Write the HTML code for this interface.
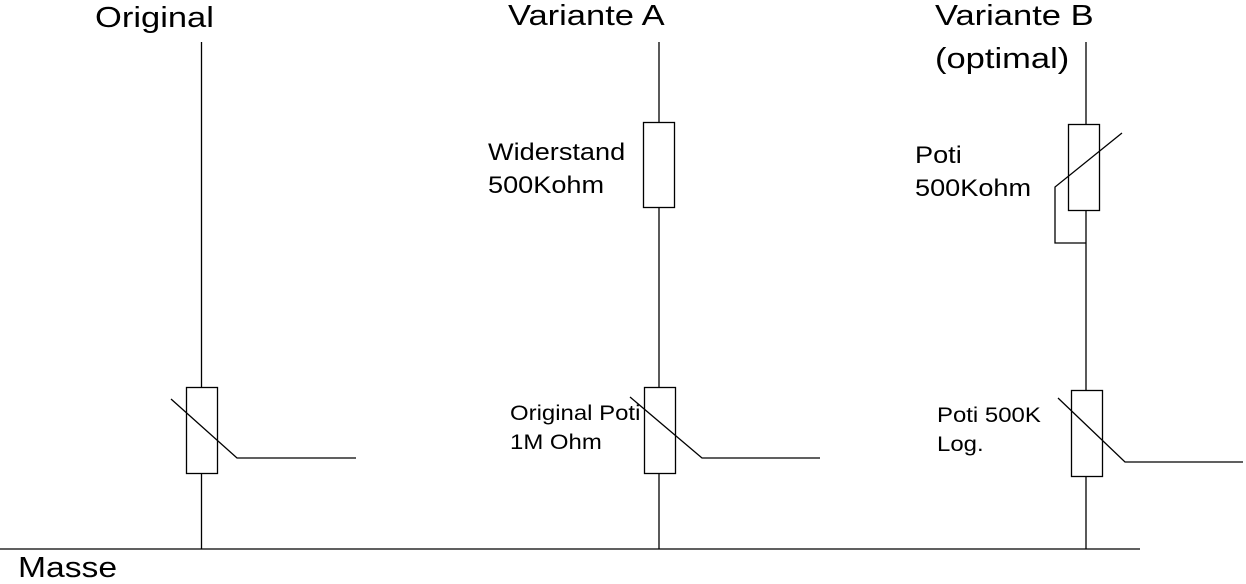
<!DOCTYPE html>
<html><head><style>
body{margin:0;width:1246px;height:582px;background:#fff;overflow:hidden;position:relative;font-family:"Liberation Sans",sans-serif;}
.t{position:absolute;white-space:nowrap;color:#000;line-height:1;transform-origin:0 0;}
.b{font-size:29px;transform:scaleX(1.19);}
.m{font-size:24px;transform:scaleX(1.13);}
.s{font-size:21px;transform:scaleX(1.14);}
</style></head><body>
<svg width="1246" height="582" style="position:absolute;left:0;top:0" fill="none" stroke="#000" stroke-width="1.3">
<line x1="0" y1="549" x2="1140" y2="549"/>
<line x1="201.5" y1="42" x2="201.5" y2="549"/>
<rect x="186.5" y="387.5" width="31" height="86" fill="#fff"/>
<polyline points="171,399 237,458 356,458"/>
<line x1="659" y1="42" x2="659" y2="549"/>
<rect x="643.5" y="122.5" width="31" height="85" fill="#fff"/>
<rect x="644.5" y="387.5" width="31" height="86" fill="#fff"/>
<polyline points="630,397 702,458 820,458"/>
<line x1="1086" y1="42" x2="1086" y2="549"/>
<rect x="1068.5" y="124.5" width="31" height="86" fill="#fff"/>
<polyline points="1122,133 1055,187 1055,243 1086,243"/>
<rect x="1071.5" y="390.5" width="31" height="86" fill="#fff"/>
<polyline points="1058,398 1125,462 1243,462"/>
</svg>
<div class="t b" style="left:95px;top:4px">Original</div>
<div class="t b" style="left:508px;top:2px">Variante A</div>
<div class="t b" style="left:935px;top:2px">Variante B</div>
<div class="t b" style="left:935px;top:45px">(optimal)</div>
<div class="t b" style="left:18px;top:554px;transform:scaleX(1.16)">Masse</div>
<div class="t m" style="left:488px;top:141px">Widerstand</div>
<div class="t m" style="left:488px;top:174px">500Kohm</div>
<div class="t m" style="left:915px;top:144px">Poti</div>
<div class="t m" style="left:915px;top:177px">500Kohm</div>
<div class="t s" style="left:510px;top:403px">Original Poti</div>
<div class="t s" style="left:510px;top:432px">1M Ohm</div>
<div class="t s" style="left:937px;top:405px">Poti 500K</div>
<div class="t s" style="left:937px;top:434px">Log.</div>
</body></html>
